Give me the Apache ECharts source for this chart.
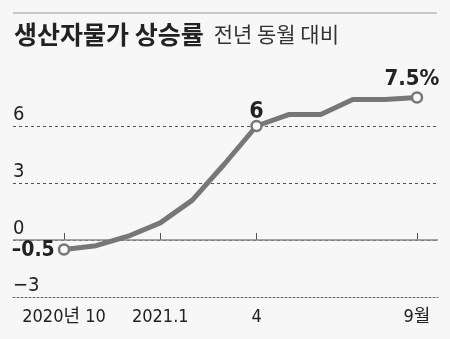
<!DOCTYPE html>
<html><head><meta charset="utf-8">
<script src="https://cdn.jsdelivr.net/npm/echarts@6/dist/echarts.min.js"></script>
<style>html,body{margin:0;padding:0;background:#f7f7f7}#c{width:450px;height:339px}</style>
</head><body><div id="c"></div>
<script>
var months = ['2020.10','2020.11','2020.12','2021.1','2021.2','2021.3','2021.4','2021.5','2021.6','2021.7','2021.8','2021.9'];
var values = [-0.5, -0.3, 0.2, 0.9, 2.1, 4.0, 6.0, 6.6, 6.6, 7.4, 7.4, 7.5];
var tickLabels = ['2020년 10','','','2021.1','','','4','','','','','9월'];
var pointLabels = ['–0.5','','','','','','6','','','','','7.5%'];
var yTicks = [-3, 0, 3, 6];
var titleText = '생산자물가 상승률';
var subtitleText = '전년 동월 대비';

var NARROW = '"DejaVu Sans Condensed","Noto Sans CJK KR",sans-serif';
var KR = '"Noto Sans CJK KR",sans-serif';

var seriesData = values.map(function(v, i){
  var item = {value: v};
  if (pointLabels[i]) {
    var pos = i === 0 ? 'left' : 'top';
    item.symbol = 'circle';
    item.symbolSize = 10;
    item.label = {show: true, position: pos, formatter: pointLabels[i],
      distance: i === 0 ? 4 : (i === 6 ? -1 : 3),
      offset: i === 11 ? [-5, 2] : (i === 0 ? [1, 1] : [0, 3]),
      fontFamily: NARROW, fontWeight: 'bold', fontSize: i === 0 ? 21 : (i === 11 ? 22 : 23), color: '#222'};
  } else {
    item.symbol = 'none';
  }
  return item;
});

var chart = echarts.init(document.getElementById('c'), null, {renderer: 'canvas'});
chart.setOption({
  backgroundColor: '#f7f7f7',
  animation: false,
  title: {
    left: 14, top: 22, padding: 0,
    text: '{a|' + titleText + '}  {b|' + subtitleText + '}',
    textStyle: {rich: {
      a: {fontFamily: KR, fontWeight: 'bold', fontSize: 25, color: '#222'},
      b: {fontFamily: KR, fontWeight: 'normal', fontSize: 21, color: '#333'}
    }}
  },
  graphic: [{type: 'line', shape: {x1: 13, y1: 13, x2: 437, y2: 13}, style: {stroke: '#999', lineWidth: 1}}],
  grid: [
    {left: 13, right: 12, top: 69, bottom: 42},
    {left: 64, right: 33, top: 69, bottom: 42}
  ],
  xAxis: [
    {gridIndex: 0, type: 'value', min: 0, max: 1, axisLabel: {show: false}, axisTick: {show: false}, splitLine: {show: false},
      axisLine: {onZero: false, lineStyle: {color: '#666', type: [2, 2], width: 1}}},
    {gridIndex: 1, type: 'category', data: months, boundaryGap: false,
      axisLine: {show: false},
      axisTick: {show: true, inside: true, length: 7, lineStyle: {color: '#555'},
        interval: function(i){ return tickLabels[i] !== ''; }},
      axisLabel: {interval: 0, margin: 11, fontFamily: NARROW, fontSize: 18, color: '#222',
        formatter: function(v, i){ return tickLabels[i]; }}}
  ],
  yAxis: [
    {gridIndex: 0, type: 'value', min: -3, max: 9, interval: 3,
      axisLine: {show: false}, axisTick: {show: false},
      axisLabel: {inside: true, margin: 0, verticalAlign: 'bottom', padding: [0, 0, 1, 0],
        fontFamily: NARROW, fontSize: 20, color: '#222',
        formatter: function(v){ return yTicks.indexOf(v) < 0 ? '' : (v < 0 ? '−' + Math.abs(v) : String(v)); }},
      splitLine: {show: true, showMinLine: false, showMaxLine: false, lineStyle: {color: '#555', type: [3, 3], width: 1}}},
    {gridIndex: 1, type: 'value', min: -3, max: 9, interval: 3, show: false}
  ],
  series: [
    {type: 'line', xAxisIndex: 0, yAxisIndex: 0, data: [], silent: true,
      markLine: {silent: true, symbol: 'none', label: {show: false},
        lineStyle: {color: '#888', type: 'solid', width: 1.5}, data: [{yAxis: 0}]}},
    {type: 'line', xAxisIndex: 1, yAxisIndex: 1, data: seriesData,
      lineStyle: {color: '#777', width: 5}, itemStyle: {color: '#fafafa', borderColor: '#777', borderWidth: 2.5},
      z: 5}
  ]
});
</script></body></html>
